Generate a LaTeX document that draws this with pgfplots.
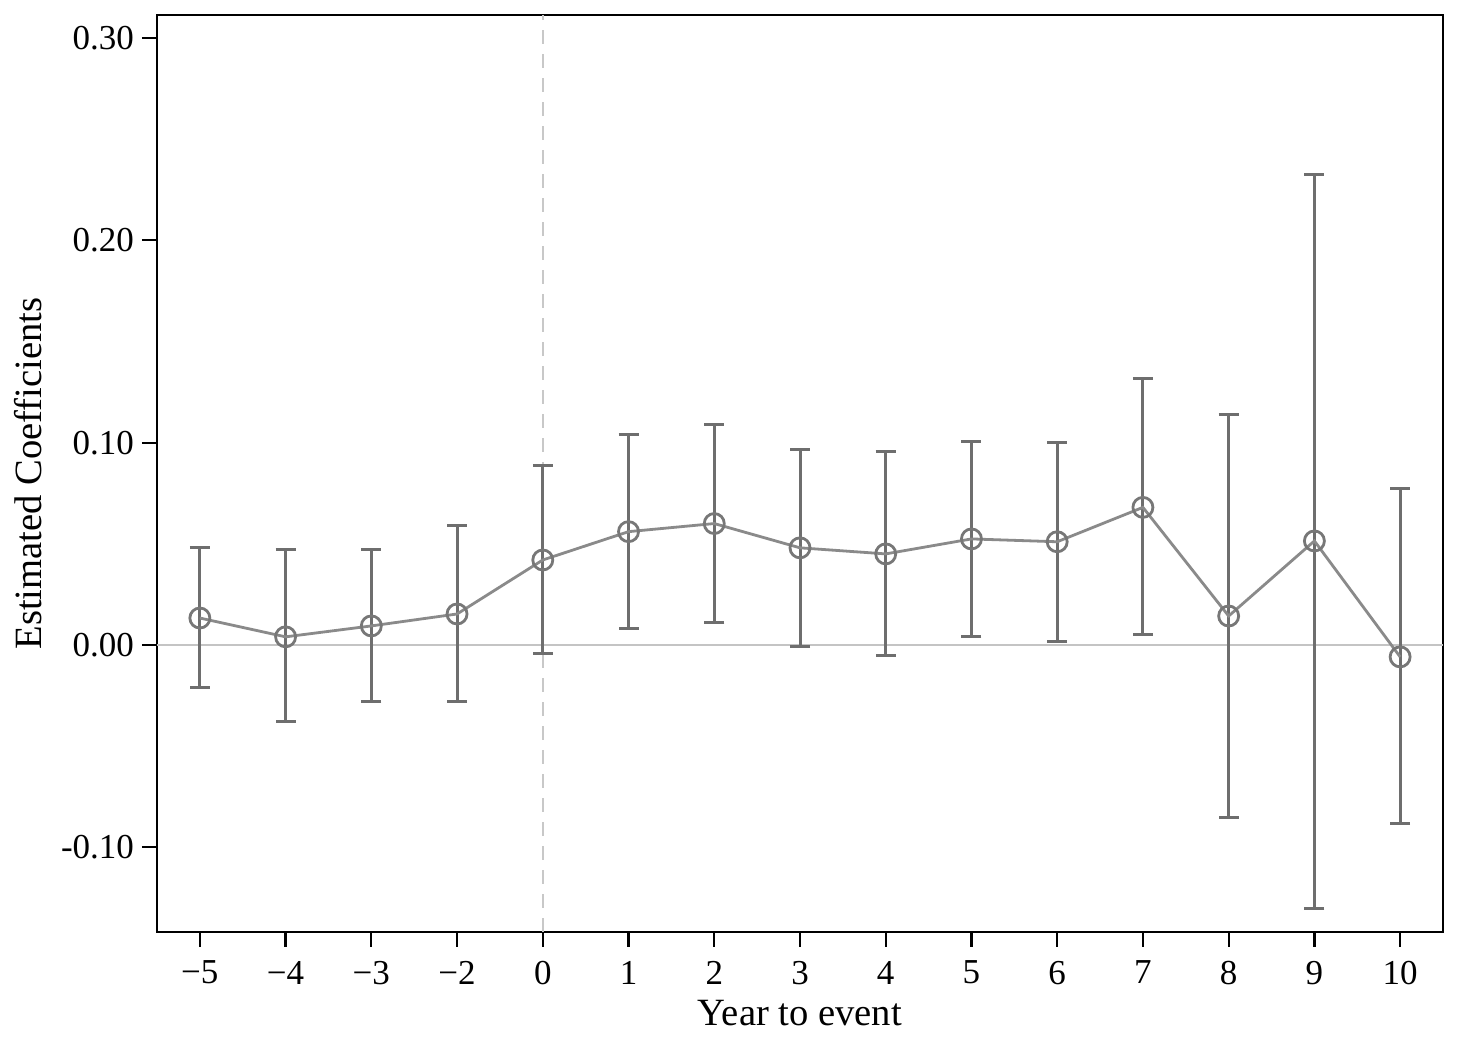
\documentclass[border=0pt]{standalone}
\usepackage{pgfplots}
\pgfplotsset{compat=1.18}
\usepackage{pgfplotstable}
\usepackage{fontspec}
\setmainfont{Liberation Serif}
\usetikzlibrary{calc}
\definecolor{errc}{HTML}{6E6E6E}
\definecolor{linec}{HTML}{8A8A8A}
\definecolor{markc}{HTML}{777777}
\definecolor{zeroc}{HTML}{C4C4C4}
\definecolor{vlinec}{HTML}{C8C8C8}

\pgfplotstableread{
x y lo hi
0 0.0133 -0.0210 0.0480
1 0.0040 -0.0380 0.0470
2 0.0094 -0.0280 0.0470
3 0.0153 -0.0280 0.0590
4 0.0420 -0.0040 0.0885
5 0.0560 0.0080 0.1040
6 0.0600 0.0110 0.1090
7 0.0480 -0.0010 0.0964
8 0.0450 -0.0054 0.0954
9 0.0524 0.0044 0.1008
10 0.0510 0.0015 0.0999
11 0.0680 0.0054 0.1315
12 0.0143 -0.0855 0.1140
13 0.0514 -0.1305 0.2323
14 -0.0059 -0.0885 0.0771
}\coef

\begin{document}
\begin{tikzpicture}
\begin{axis}[
  scale only axis,
  width=643pt, height=458.5pt,
  xmin=-0.5, xmax=14.5,
  ymin=-0.1419, ymax=0.3114,
  xtick={0,...,14},
  xticklabels={−5,−4,−3,−2,0,1,2,3,4,5,6,7,8,9,10},
  ytick={-0.1,0,0.1,0.2,0.3},
  yticklabels={-0.10,0.00,0.10,0.20,0.30},
  xtick pos=bottom, ytick pos=left,
  tick align=outside,
  major tick length=7.5pt,
  tick style={black, line width=1.1pt},
  axis line style={black, line width=1.25pt},
  ticklabel style={font=\fontsize{17.5}{19}\selectfont},
  xticklabel style={yshift=-3.5pt},
  yticklabel style={xshift=-0.5pt},
  xlabel={Year to event},
  ylabel={Estimated Coefficients},
  label style={font=\fontsize{19.3}{21}\selectfont},
  xlabel style={at={(axis description cs:0.5,-0.0883)}, anchor=center},
  ylabel style={at={(axis description cs:-0.1003,0.5)}, anchor=center},
  clip=false,
]
\addplot[zeroc, line width=1.4pt] coordinates {(-0.5,0) (14.5,0)};
\addplot[vlinec, line width=0.8pt, dash pattern=on 7pt off 5pt] coordinates {(4,-0.1419) (4,0.3114)};
\addplot[draw=none, mark=none,
  error bars/.cd, y dir=both, y explicit,
  error bar style={errc, line width=1.5pt},
  error mark=|,
  error mark options={errc, line width=1.5pt, mark size=5pt}]
  table[x=x, y=y, y error plus expr=\thisrow{hi}-\thisrow{y}, y error minus expr=\thisrow{y}-\thisrow{lo}] {\coef};
\addplot[linec, line width=1.4pt, mark=o, mark size=5pt,
  mark options={markc, line width=1.4pt, fill=none}]
  table[x=x, y=y] {\coef};
\end{axis}
\pgfresetboundingbox
\path[use as bounding box] ($(current axis.south west)+(-78.5pt,-55.5pt)$) rectangle ($(current axis.north east)+(7.5pt,7.5pt)$);
\end{tikzpicture}
\end{document}
